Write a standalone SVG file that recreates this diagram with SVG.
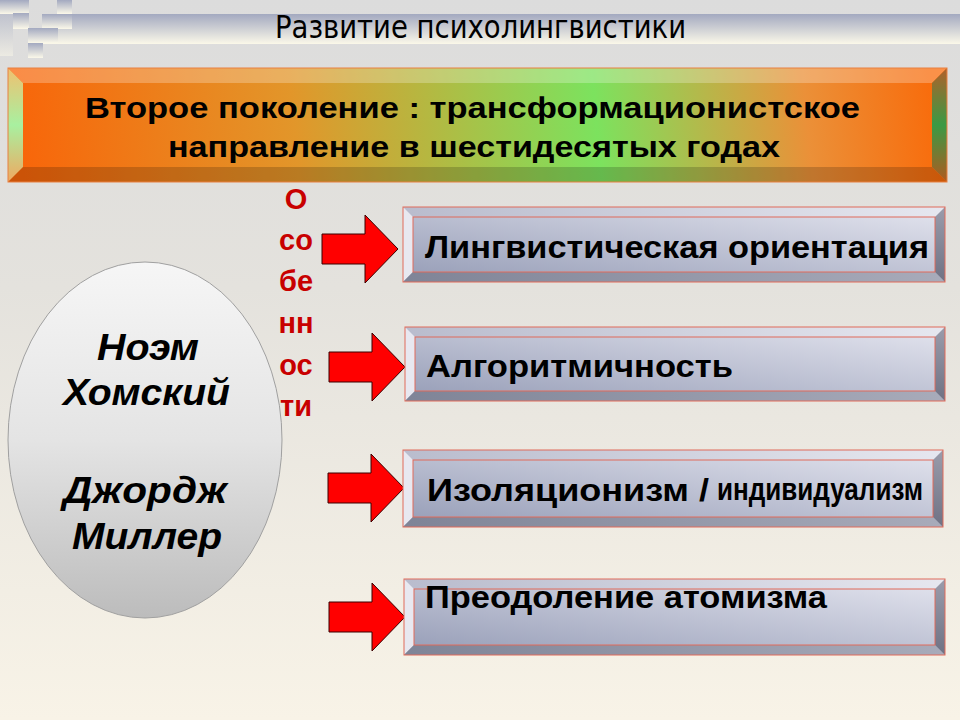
<svg xmlns="http://www.w3.org/2000/svg" width="960" height="720" viewBox="0 0 960 720">
<defs>
  <linearGradient id="bg" x1="0" y1="0" x2="0" y2="1">
    <stop offset="0" stop-color="#dcdcdc"/>
    <stop offset="0.4" stop-color="#e4e2dd"/>
    <stop offset="1" stop-color="#f8f3e7"/>
  </linearGradient>
  <linearGradient id="deco" x1="0" y1="0" x2="0" y2="1">
    <stop offset="0" stop-color="#a3a9c0"/>
    <stop offset="1" stop-color="#fbf8e9"/>
  </linearGradient>
  <linearGradient id="banFace" gradientUnits="userSpaceOnUse" x1="23" y1="167" x2="932" y2="83">
    <stop offset="0" stop-color="#f8660a"/>
    <stop offset="0.3" stop-color="#e2962a"/>
    <stop offset="0.63" stop-color="#7ce25e"/>
    <stop offset="0.86" stop-color="#eb9038"/>
    <stop offset="1" stop-color="#f86c0c"/>
  </linearGradient>
  <linearGradient id="banLeft" x1="0" y1="0" x2="0" y2="1">
    <stop offset="0" stop-color="#f0c070"/>
    <stop offset="0.5" stop-color="#a8f0a0"/>
    <stop offset="1" stop-color="#f0a860"/>
  </linearGradient>
  <linearGradient id="banRight" x1="0" y1="0" x2="0" y2="1">
    <stop offset="0" stop-color="#b0602a"/>
    <stop offset="0.5" stop-color="#3a9a44"/>
    <stop offset="1" stop-color="#b05a20"/>
  </linearGradient>
  <linearGradient id="boxFace" x1="0" y1="1" x2="1" y2="0">
    <stop offset="0" stop-color="#959cb6"/>
    <stop offset="1" stop-color="#e4e5ef"/>
  </linearGradient>
  <linearGradient id="boxTop" x1="0" y1="0" x2="1" y2="0">
    <stop offset="0" stop-color="#b9bccd"/>
    <stop offset="1" stop-color="#e6e7ef"/>
  </linearGradient>
  <linearGradient id="boxBot" x1="0" y1="0" x2="1" y2="0">
    <stop offset="0" stop-color="#7f8497"/>
    <stop offset="1" stop-color="#a8abba"/>
  </linearGradient>
  <linearGradient id="boxRight" x1="0" y1="0" x2="0" y2="1">
    <stop offset="0" stop-color="#9a9cab"/>
    <stop offset="1" stop-color="#6f7284"/>
  </linearGradient>
  <linearGradient id="ell" x1="0" y1="0" x2="0" y2="1">
    <stop offset="0" stop-color="#f6f6f6"/>
    <stop offset="0.5" stop-color="#e4e4e4"/>
    <stop offset="1" stop-color="#bcbcbc"/>
  </linearGradient>
  <path id="arrow" d="M-76,-15 L-33,-15 L-33,-34 L0,0 L-33,34 L-33,15 L-76,15 Z"/>
  <style>
    .deco { fill: url(#deco); }
    .title { font-family: "Liberation Sans Narrow", "Arial Narrow", "DejaVu Sans Condensed", sans-serif; font-size: 32px; fill: #000; }
    .bantext { font-family: "Liberation Sans", Arial, sans-serif; font-weight: bold; font-size: 30px; fill: #000; }
    .bx-face { fill: url(#boxFace); }
    .bv-top { fill: url(#boxTop); }
    .bv-left { fill: #e8e8f0; }
    .bv-bot { fill: url(#boxBot); }
    .bv-right { fill: url(#boxRight); }
    .bx-line { fill: none; stroke: #e06a5a; stroke-width: 1; }
    .bxtext { font-family: "Liberation Sans", Arial, sans-serif; font-weight: bold; font-size: 32px; fill: #000; }
    .arr { fill: #ff0000; stroke: #3a0000; stroke-width: 1; }
    .osob { font-family: "Liberation Sans", Arial, sans-serif; font-weight: bold; font-size: 29px; fill: #c80000; text-anchor: middle; }
    .name { font-family: "Liberation Sans", Arial, sans-serif; font-weight: bold; font-style: italic; font-size: 36px; fill: #000; }
  </style>
</defs>

<g id="background">
  <rect x="0" y="0" width="960" height="720" fill="url(#bg)"/>
  <rect class="deco" x="42" y="14" width="918" height="30"/>
  <rect class="deco" x="0" y="0" width="29" height="14"/>
  <rect class="deco" x="0" y="14" width="13" height="42" opacity="0.5"/>
  <rect class="deco" x="13" y="13" width="16" height="16"/>
  <rect class="deco" x="57" y="0" width="15" height="14"/>
  <rect class="deco" x="42" y="14" width="30" height="15"/>
  <rect class="deco" x="28" y="28" width="30" height="15"/>
  <rect class="deco" x="28" y="43" width="15" height="15"/>
</g>

<g id="title">
  <text class="title" x="275" y="38" textLength="411" lengthAdjust="spacingAndGlyphs">Развитие психолингвистики</text>
</g>

<g id="node-banner">
  <rect x="8" y="68" width="939" height="114" fill="url(#banFace)"/>
  <polygon points="8,68 947,68 932,83 23,83" fill="#ffffff" opacity="0.25"/>
  <polygon points="8,68 23,83 23,167 8,182" fill="url(#banLeft)"/>
  <polygon points="8,182 23,167 932,167 947,182" fill="#000000" opacity="0.18"/>
  <polygon points="947,68 947,182 932,167 932,83" fill="url(#banRight)"/>
  <rect x="8" y="68" width="939" height="114" fill="none" stroke="#e88040" stroke-width="1"/>
  <text class="bantext" x="85" y="118" textLength="775" lengthAdjust="spacingAndGlyphs">Второе поколение : трансформационистское</text>
  <text class="bantext" x="168" y="157" textLength="612" lengthAdjust="spacingAndGlyphs">направление в шестидесятых годах</text>
</g>

<g id="osobennosti">
  <text class="osob" x="296" y="209">О</text>
  <text class="osob" x="296" y="250">со</text>
  <text class="osob" x="296" y="291">бе</text>
  <text class="osob" x="296" y="333">нн</text>
  <text class="osob" x="296" y="375">ос</text>
  <text class="osob" x="296" y="416">ти</text>
</g>

<g id="node-persons">
  <ellipse cx="145" cy="440" rx="137" ry="178" fill="url(#ell)" stroke="#a0a0a0" stroke-width="1"/>
  <text class="name" x="97" y="360" textLength="102" lengthAdjust="spacingAndGlyphs">Ноэм</text>
  <text class="name" x="63" y="405" textLength="167" lengthAdjust="spacingAndGlyphs">Хомский</text>
  <text class="name" x="63" y="503" textLength="164" lengthAdjust="spacingAndGlyphs">Джордж</text>
  <text class="name" x="72" y="549" textLength="150" lengthAdjust="spacingAndGlyphs">Миллер</text>
</g>

<g id="connectors">
  <use href="#arrow" class="arr" transform="translate(398,249)"/>
  <use href="#arrow" class="arr" transform="translate(405,367)"/>
  <use href="#arrow" class="arr" transform="translate(404,488)"/>
  <use href="#arrow" class="arr" transform="translate(405,617)"/>
</g>

<g id="node-box1" transform="translate(403,207)">
  <rect class="bx-face" x="0" y="0" width="542" height="75"/>
  <polygon class="bv-top" points="0,0 542,0 532,10 10,10"/>
  <polygon class="bv-left" points="0,0 10,10 10,65 0,75"/>
  <polygon class="bv-bot" points="0,75 10,65 532,65 542,75"/>
  <polygon class="bv-right" points="542,0 542,75 532,65 532,10"/>
  <rect class="bx-line" x="0" y="0" width="542" height="75"/>
  <rect class="bx-line" x="10" y="10" width="522" height="55"/>
  <text class="bxtext" x="22" y="51" textLength="504" lengthAdjust="spacingAndGlyphs">Лингвистическая ориентация</text>
</g>

<g id="node-box2" transform="translate(405,327)">
  <rect class="bx-face" x="0" y="0" width="540" height="74"/>
  <polygon class="bv-top" points="0,0 540,0 530,10 10,10"/>
  <polygon class="bv-left" points="0,0 10,10 10,64 0,74"/>
  <polygon class="bv-bot" points="0,74 10,64 530,64 540,74"/>
  <polygon class="bv-right" points="540,0 540,74 530,64 530,10"/>
  <rect class="bx-line" x="0" y="0" width="540" height="74"/>
  <rect class="bx-line" x="10" y="10" width="520" height="54"/>
  <text class="bxtext" x="21" y="50" textLength="307" lengthAdjust="spacingAndGlyphs">Алгоритмичность</text>
</g>

<g id="node-box3" transform="translate(403,450)">
  <rect class="bx-face" x="0" y="0" width="540" height="77"/>
  <polygon class="bv-top" points="0,0 540,0 530,10 10,10"/>
  <polygon class="bv-left" points="0,0 10,10 10,67 0,77"/>
  <polygon class="bv-bot" points="0,77 10,67 530,67 540,77"/>
  <polygon class="bv-right" points="540,0 540,77 530,67 530,10"/>
  <rect class="bx-line" x="0" y="0" width="540" height="77"/>
  <rect class="bx-line" x="10" y="10" width="520" height="57"/>
  <text class="bxtext" x="24" y="51" textLength="282" lengthAdjust="spacingAndGlyphs">Изоляционизм /</text>
  <text class="bxtext" x="314" y="50" font-size="23" textLength="206" lengthAdjust="spacingAndGlyphs">индивидуализм</text>
</g>

<g id="node-box4" transform="translate(404,579)">
  <rect class="bx-face" x="0" y="0" width="541" height="76"/>
  <polygon class="bv-top" points="0,0 541,0 531,10 10,10"/>
  <polygon class="bv-left" points="0,0 10,10 10,66 0,76"/>
  <polygon class="bv-bot" points="0,76 10,66 531,66 541,76"/>
  <polygon class="bv-right" points="541,0 541,76 531,66 531,10"/>
  <rect class="bx-line" x="0" y="0" width="541" height="76"/>
  <rect class="bx-line" x="10" y="10" width="521" height="56"/>
  <text class="bxtext" x="21" y="29" textLength="402" lengthAdjust="spacingAndGlyphs">Преодоление атомизма</text>
</g>
</svg>
